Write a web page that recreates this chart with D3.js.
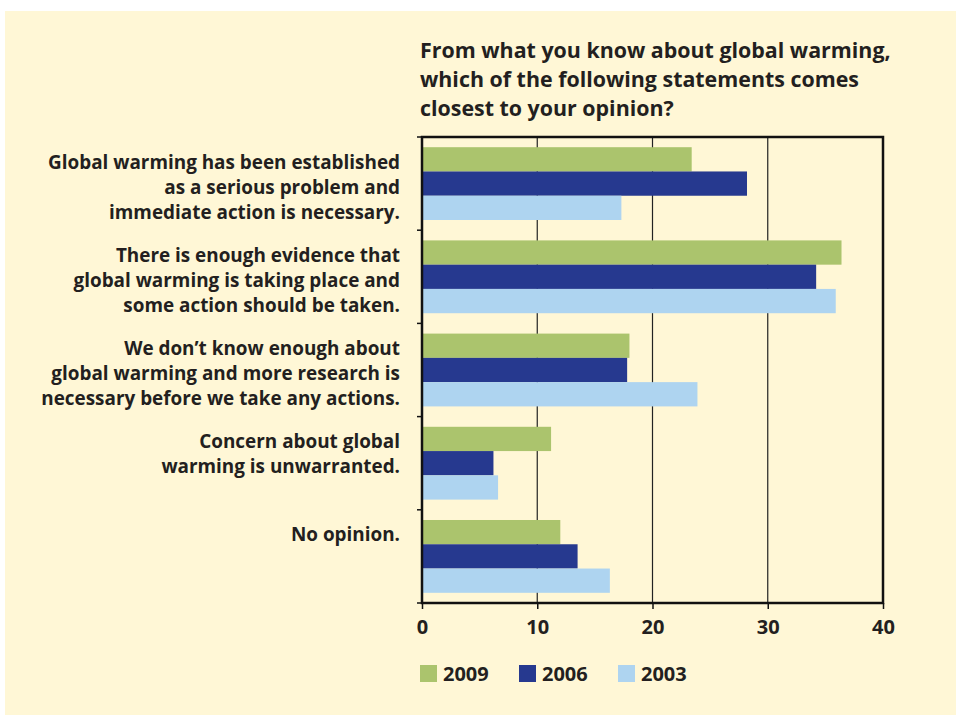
<!DOCTYPE html>
<html>
<head>
<meta charset="utf-8">
<script src="https://cdn.jsdelivr.net/npm/d3@7"></script>
<style>
  body { margin: 0; background: #fff; }
  text { font-family: "Open Sans", Lato, sans-serif; font-weight: bold; fill: #231f20; }
</style>
</head>
<body>
<svg id="chart" width="956" height="715"></svg>
<script>
'use strict';

// data
const categories = ['established', 'enough', 'research', 'unwarranted', 'none'];
const labelLines = [
    ['Global warming has been established', 'as a serious problem and', 'immediate action is necessary.'],
    ['There is enough evidence that', 'global warming is taking place and', 'some action should be taken.'],
    ['We don\u2019t know enough about', 'global warming and more research is', 'necessary before we take any actions.'],
    ['Concern about global', 'warming is unwarranted.', ''],
    ['No opinion.', '', '']
];
const seriesNames = ['2009', '2006', '2003'];
const values2009 = [23.4, 36.4, 18.0, 11.2, 12.0];
const values2006 = [28.2, 34.2, 17.8, 6.2, 13.5];
const values2003 = [17.3, 35.9, 23.9, 6.6, 16.3];
const xTicks = [0, 10, 20, 30, 40];
const titleLines = [
    'From what you know about global warming,',
    'which of the following statements comes',
    'closest to your opinion?'
];

const colors = ['#abc46d', '#26398f', '#aed4f0'];
const seriesValues = [values2009, values2006, values2003];

let svg = d3.select('#chart');

// cream panel
svg.append('rect')
    .attr('x', 5).attr('y', 11)
    .attr('width', 951).attr('height', 704)
    .attr('fill', '#fff7d6');

let plotLeft = 422, plotRight = 883, plotTop = 137, plotBottom = 603;

let x = d3.scaleLinear().domain([0, 40]).range([plotLeft, plotRight]);
let y0 = d3.scaleBand().domain(categories).range([plotTop, plotBottom]).padding(0);
let y1 = d3.scaleBand().domain(seriesNames).range([0, y0.bandwidth()])
    .paddingInner(0).paddingOuter(0.42);

// title
svg.append('g').selectAll('text')
    .data(titleLines)
    .join('text')
    .attr('x', 420)
    .attr('y', (d, i) => 58 + i * 29)
    .style('font-size', '21.4px')
    .text(d => d);

// gridlines
svg.append('g').selectAll('line')
    .data(xTicks.slice(1, -1))
    .join('line')
    .attr('x1', d => x(d)).attr('x2', d => x(d))
    .attr('y1', plotTop).attr('y2', plotBottom)
    .attr('stroke', '#222')
    .attr('stroke-width', 1.2);

// bars
let groups = svg.append('g').selectAll('g')
    .data(categories)
    .join('g')
    .attr('transform', d => `translate(0,${y0(d)})`);

groups.selectAll('rect')
    .data((d, ci) => seriesNames.map((s, si) => ({ s: s, v: seriesValues[si][ci], c: colors[si] })))
    .join('rect')
    .attr('x', x(0))
    .attr('y', d => y1(d.s))
    .attr('width', d => x(d.v) - x(0))
    .attr('height', y1.bandwidth())
    .attr('fill', d => d.c);

// frame
svg.append('rect')
    .attr('x', plotLeft).attr('y', plotTop)
    .attr('width', plotRight - plotLeft).attr('height', plotBottom - plotTop)
    .attr('fill', 'none')
    .attr('stroke', '#111')
    .attr('stroke-width', 2.5);

// axes
let yTickVals = y0.domain().map(d => y0(d)).concat([plotBottom]);
svg.append('g').selectAll('line')
    .data(yTickVals)
    .join('line')
    .attr('x1', plotLeft - 5).attr('x2', plotLeft)
    .attr('y1', d => d).attr('y2', d => d)
    .attr('stroke', '#111').attr('stroke-width', 1.5);

let xAxis = svg.append('g')
    .attr('transform', `translate(0,${plotBottom})`)
    .call(d3.axisBottom(x).tickValues(xTicks).tickSize(6).tickPadding(11));
xAxis.select('.domain').remove();
xAxis.selectAll('line').attr('stroke', '#111').attr('stroke-width', 1.5);
xAxis.selectAll('text')
    .style('font-size', '20px')
    .style('font-family', '"Open Sans", sans-serif')
    .attr('fill', '#231f20');

// category labels
let labels = svg.append('g').selectAll('text')
    .data(categories)
    .join('text')
    .attr('text-anchor', 'end')
    .style('font-size', '18.9px');
labels.each(function(d, i) {
    let mid = y0(d) + y0.bandwidth() / 2;
    d3.select(this).selectAll('tspan')
        .data(labelLines[i])
        .join('tspan')
        .attr('x', 400)
        .attr('y', (t, j) => mid + 10 + (j - 1) * 25)
        .text(t => t);
});

// legend
let legend = svg.append('g').selectAll('g')
    .data(seriesNames)
    .join('g')
    .attr('transform', (d, i) => `translate(${420 + i * 99},665)`);
legend.append('rect')
    .attr('width', 17).attr('height', 17)
    .attr('fill', (d, i) => colors[i]);
legend.append('text')
    .attr('x', 23).attr('y', 16)
    .style('font-size', '20px')
    .text(d => d);
</script>
</body>
</html>
